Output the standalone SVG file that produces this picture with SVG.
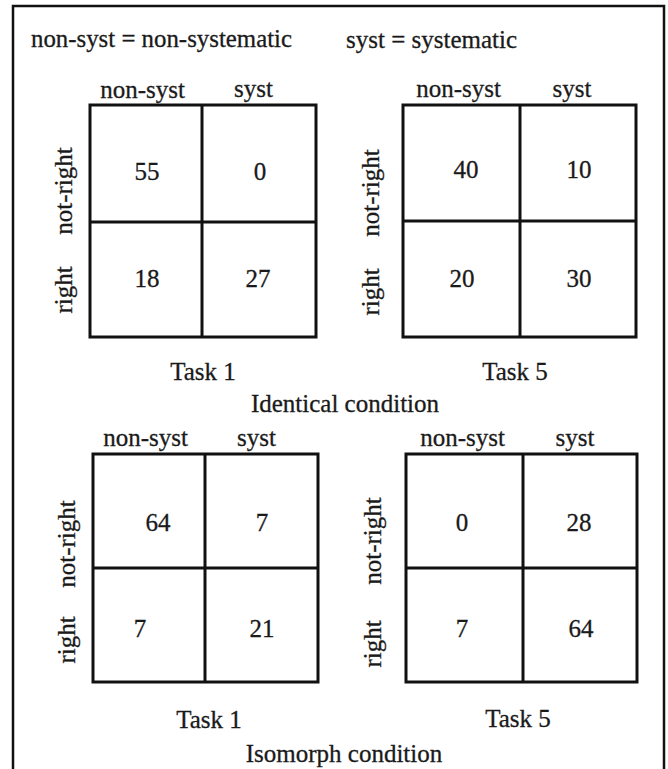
<svg xmlns="http://www.w3.org/2000/svg" width="668" height="769" viewBox="0 0 668 769">
<style>
text{font-family:"Liberation Serif","Times New Roman",serif;font-size:25px;fill:#1a1a1a;stroke:#1a1a1a;stroke-width:0.3}
.m{text-anchor:middle}
.box{fill:none;stroke:#111;stroke-width:3}
.ln{stroke:#111;stroke-width:3}
.frame{fill:none;stroke:#111;stroke-width:2.5}
</style>
<rect width="668" height="769" fill="#fff"/>
<path class="frame" d="M13,769 V6 H664 V769"/>
<g id="legend">
<text x="31" y="47" textLength="261" lengthAdjust="spacingAndGlyphs">non-syst = non-systematic</text>
<text x="346" y="48" textLength="171" lengthAdjust="spacingAndGlyphs">syst = systematic</text>
</g>
<g id="task1-identical">
<rect class="box" x="90" y="105" width="226" height="232"/>
<line class="ln" x1="202" y1="105" x2="202" y2="337"/>
<line class="ln" x1="90" y1="222" x2="316" y2="222"/>
<text class="m" x="142.5" y="98">non-syst</text>
<text class="m" x="253.5" y="97">syst</text>
<text class="m" transform="translate(72,191) rotate(-90)">not-right</text>
<text class="m" transform="translate(72,290) rotate(-90)">right</text>
<text class="m" x="147" y="180">55</text>
<text class="m" x="260" y="180">0</text>
<text class="m" x="147" y="287">18</text>
<text class="m" x="258" y="287">27</text>
<text class="m" x="203" y="380">Task 1</text>
</g>
<g id="task5-identical">
<rect class="box" x="403" y="105" width="233" height="232"/>
<line class="ln" x1="520" y1="105" x2="520" y2="337"/>
<line class="ln" x1="403" y1="221" x2="636" y2="221"/>
<text class="m" x="458.5" y="97">non-syst</text>
<text class="m" x="572" y="97">syst</text>
<text class="m" transform="translate(379,193) rotate(-90)">not-right</text>
<text class="m" transform="translate(379,292) rotate(-90)">right</text>
<text class="m" x="466" y="178">40</text>
<text class="m" x="579" y="178">10</text>
<text class="m" x="462" y="287">20</text>
<text class="m" x="579" y="287">30</text>
<text class="m" x="515" y="380">Task 5</text>
</g>
<text id="identical-label" class="m" x="345" y="412">Identical condition</text>
<g id="task1-isomorph">
<rect class="box" x="93" y="454" width="225" height="228"/>
<line class="ln" x1="205" y1="454" x2="205" y2="682"/>
<line class="ln" x1="93" y1="568" x2="318" y2="568"/>
<text class="m" x="145.5" y="446">non-syst</text>
<text class="m" x="256.5" y="446">syst</text>
<text class="m" transform="translate(75,544) rotate(-90)">not-right</text>
<text class="m" transform="translate(75,640) rotate(-90)">right</text>
<text class="m" x="158" y="531">64</text>
<text class="m" x="262" y="531">7</text>
<text class="m" x="140" y="637">7</text>
<text class="m" x="262" y="637">21</text>
<text class="m" x="209" y="728">Task 1</text>
</g>
<g id="task5-isomorph">
<rect class="box" x="406" y="454" width="231" height="228"/>
<line class="ln" x1="523" y1="454" x2="523" y2="682"/>
<line class="ln" x1="406" y1="568" x2="637" y2="568"/>
<text class="m" x="462.5" y="446">non-syst</text>
<text class="m" x="575" y="446">syst</text>
<text class="m" transform="translate(381,541) rotate(-90)">not-right</text>
<text class="m" transform="translate(381,644) rotate(-90)">right</text>
<text class="m" x="462" y="531">0</text>
<text class="m" x="579" y="531">28</text>
<text class="m" x="462" y="637">7</text>
<text class="m" x="581" y="637">64</text>
<text class="m" x="518" y="727">Task 5</text>
</g>
<text id="isomorph-label" class="m" x="344" y="762">Isomorph condition</text>
<g id="connectors"></g>
</svg>
